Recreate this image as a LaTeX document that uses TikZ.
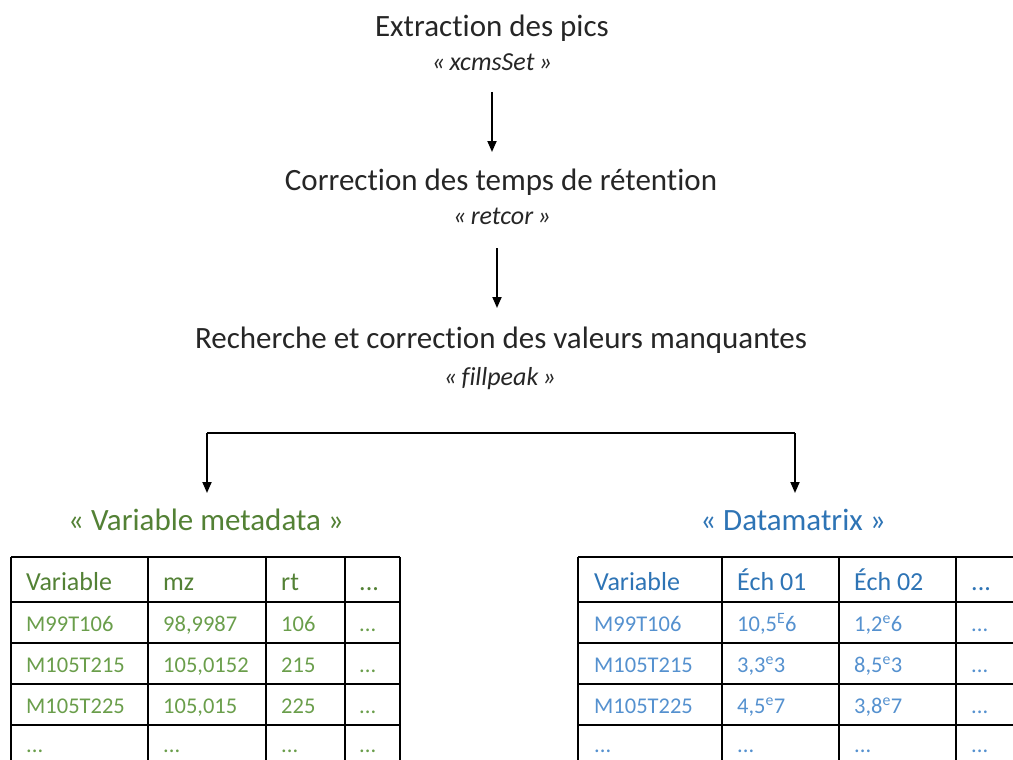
\documentclass[tikz,border=0pt]{standalone}
\usepackage{fontspec}
\setmainfont{Carlito}[Ligatures=NoCommon]
\usetikzlibrary{arrows.meta}
\definecolor{gH}{HTML}{538135}
\definecolor{gR}{HTML}{6A9E4B}
\definecolor{bH}{HTML}{2E74B5}
\definecolor{bR}{HTML}{5591CF}
\definecolor{txt}{HTML}{262626}
\begin{document}
\begin{tikzpicture}[x=1pt,y=-1pt,
  title/.style={anchor=base,inner sep=0pt,text=txt,font=\fontsize{31}{36}\selectfont},
  sub/.style={anchor=base,inner sep=0pt,text=txt,font=\fontsize{26}{30}\selectfont\itshape},
  lbl/.style={anchor=base,inner sep=0pt,font=\fontsize{31}{36}\selectfont},
  hd/.style={anchor=base west,inner sep=0pt,font=\fontsize{26}{30}\selectfont},
  cell/.style={anchor=base west,inner sep=0pt,font=\fontsize{22.5}{26}\selectfont},
  arr/.style={line width=1.8pt,-{Triangle[length=11pt,width=9pt]}},
  grid/.style={line width=1.8pt,black}]
\clip (0,0) rectangle (1013,760);
\useasboundingbox (0,0) rectangle (1013,760);

\node[title] (t1) at (492,37) {Extraction des pics};
\node[sub] (s1) at (492,71) {«\,xcmsSet\,»};
\node[title] (t2) at (501,190) {Correction des temps de rétention};
\node[sub] (s2) at (502,224) {«\,retcor\,»};
\node[title] (t3) at (501,348) {Recherche et correction des valeurs manquantes};
\node[sub] (s3) at (500,385) {«\,fillpeak\,»};

\coordinate (a1s) at (492,92);
\coordinate (a1e) at (492,152);
\coordinate (a2s) at (497,248);
\coordinate (a2e) at (497,308);
\draw[arr] (a1s) -- (a1e);
\draw[arr] (a2s) -- (a2e);

\coordinate (bl) at (207,433);
\coordinate (br) at (795,433);
\coordinate (blE) at (207,493);
\coordinate (brE) at (795,493);
\draw[line width=1.8pt] (bl) -- (br);
\draw[arr] (bl) -- (blE);
\draw[arr] (br) -- (brE);

\node[lbl,text=gH] (lv) at (206,530) {« Variable metadata »};
\node[lbl,text=bH] (ld) at (793,530) {« Datamatrix »};

% left table
\foreach \x in {11,148,266,345,400} \draw[grid] (\x,557) -- (\x,770);
\foreach \y in {557,602,643,684,725} \draw[grid] (11,\y) -- (400,\y);
\node[hd,text=gH] (lh1) at (26,590) {Variable};
\node[hd,text=gH] (lh2) at (163,590) {mz};
\node[hd,text=gH] (lh3) at (281,590) {rt};
\node[hd,text=gH] (lh4) at (359,590) {...};
\node[cell,text=gR] (l11) at (26,631) {M99T106};
\node[cell,text=gR] (l12) at (163,631) {98,9987};
\node[cell,text=gR] (l13) at (281,631) {106};
\node[cell,text=gR] (l14) at (359,631) {...};
\node[cell,text=gR] (l21) at (26,672) {M105T215};
\node[cell,text=gR] (l22) at (163,672) {105,0152};
\node[cell,text=gR] (l23) at (281,672) {215};
\node[cell,text=gR] (l24) at (359,672) {...};
\node[cell,text=gR] (l31) at (26,713) {M105T225};
\node[cell,text=gR] (l32) at (163,713) {105,015};
\node[cell,text=gR] (l33) at (281,713) {225};
\node[cell,text=gR] (l34) at (359,713) {...};
\node[cell,text=gR] (l41) at (26,752) {...};
\node[cell,text=gR] (l42) at (163,752) {...};
\node[cell,text=gR] (l43) at (281,752) {...};
\node[cell,text=gR] (l44) at (359,752) {...};

% right table
\foreach \x in {578,722,839,956} \draw[grid] (\x,557) -- (\x,770);
\foreach \y in {557,602,643,684,725} \draw[grid] (578,\y) -- (1020,\y);
\node[hd,text=bH] (rh1) at (594,590) {Variable};
\node[hd,text=bH] (rh2) at (737,590) {Éch 01};
\node[hd,text=bH] (rh3) at (854,590) {Éch 02};
\node[hd,text=bH] (rh4) at (971,590) {...};
\node[cell,text=bR] (r11) at (594,631) {M99T106};
\node[cell,text=bR] (r12) at (737,631) {10,5\textsuperscript{E}6};
\node[cell,text=bR] (r13) at (854,631) {1,2\textsuperscript{e}6};
\node[cell,text=bR] (r14) at (971,631) {...};
\node[cell,text=bR] (r21) at (594,672) {M105T215};
\node[cell,text=bR] (r22) at (737,672) {3,3\textsuperscript{e}3};
\node[cell,text=bR] (r23) at (854,672) {8,5\textsuperscript{e}3};
\node[cell,text=bR] (r24) at (971,672) {...};
\node[cell,text=bR] (r31) at (594,713) {M105T225};
\node[cell,text=bR] (r32) at (737,713) {4,5\textsuperscript{e}7};
\node[cell,text=bR] (r33) at (854,713) {3,8\textsuperscript{e}7};
\node[cell,text=bR] (r34) at (971,713) {...};
\node[cell,text=bR] (r41) at (594,752) {...};
\node[cell,text=bR] (r42) at (737,752) {...};
\node[cell,text=bR] (r43) at (854,752) {...};
\node[cell,text=bR] (r44) at (971,752) {...};
\end{tikzpicture}
\end{document}
